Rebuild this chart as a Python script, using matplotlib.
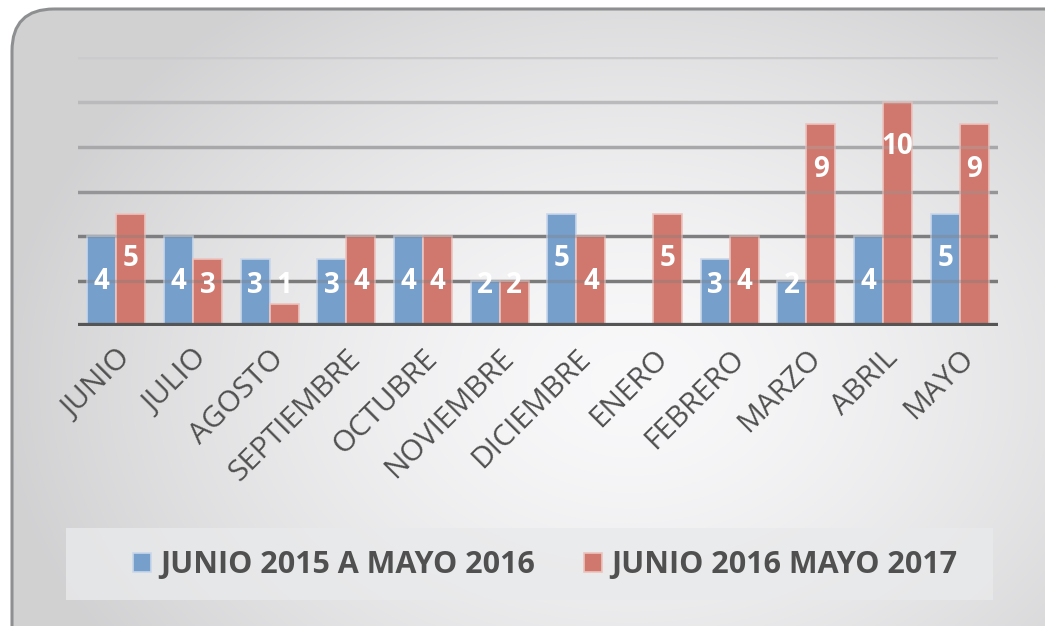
import numpy as np
import matplotlib
matplotlib.use("Agg")
import matplotlib.pyplot as plt
from matplotlib.patches import FancyBboxPatch, Rectangle

meses = ["JUNIO", "JULIO", "AGOSTO", "SEPTIEMBRE", "OCTUBRE", "NOVIEMBRE",
         "DICIEMBRE", "ENERO", "FEBRERO", "MARZO", "ABRIL", "MAYO"]
serie_2015 = [4, 4, 3, 3, 4, 2, 5, 0, 3, 2, 4, 5]
serie_2016 = [5, 3, 1, 4, 4, 2, 4, 5, 4, 9, 10, 9]
nombres = ["JUNIO 2015 A MAYO 2016", "JUNIO 2016 MAYO 2017"]

AZUL = "#779fcb"
ROJO = "#d0786e"
GRIS_TXT = "#505050"

plt.rcParams["font.family"] = ["Open Sans", "DejaVu Sans"]

W, H = 1045, 626
fig = plt.figure(figsize=(W / 100, H / 100), dpi=100)
fig.patch.set_facecolor("white")

# rounded panel with radial gradient
bg = fig.add_axes([0, 0, 1, 1])
bg.set_xlim(0, W); bg.set_ylim(H, 0); bg.axis("off")
yy, xx = np.mgrid[0:H, 0:W]
r = np.sqrt(((xx - 630) / 620.0) ** 2 + ((yy - 380) / 460.0) ** 2)
val = np.clip(0.975 - 0.15 * r ** 1.5, 0.82, 1)
img = bg.imshow(np.dstack([val, val, val + 0.006]).clip(0, 1), extent=(0, W, H, 0),
                interpolation="bilinear", zorder=0)
panel = FancyBboxPatch((12, 9), W + 40, H + 40, boxstyle="round,pad=0,rounding_size=42",
                       fc="none", ec="#8e8f91", lw=2.2, zorder=2)
bg.add_patch(panel)
img.set_clip_path(panel)
bg.add_patch(Rectangle((66, 528), 927, 72, fc="#e9eaeb", ec="none", alpha=0.8, zorder=1))

ax = fig.add_axes([78 / W, 1 - 326 / H, 920 / W, 269 / H])
ax.patch.set_alpha(0)
ax.set_xlim(-0.5, 11.5)
ax.set_ylim(0, 12)
for s in ax.spines.values():
    s.set_visible(False)

grid_cols = {2: "#7b7b7c", 4: "#7e7e80", 6: "#959597", 8: "#a8a8aa", 10: "#bababc", 12: "#cbcbcd"}
for yv, c in grid_cols.items():
    ax.axhline(yv, color=c, lw=2.4, zorder=0.5)
    ax.axhline(yv, color=c, lw=2.4, alpha=0.35, zorder=2.5)
ax.axhline(0, color="#555555", lw=4.5, zorder=3)

x = np.arange(len(meses))
w = 0.38
b1 = ax.bar(x - w / 2, serie_2015, w, color=AZUL, edgecolor="#c9d7ea", lw=1.2, zorder=2,
            label=nombres[0])
b2 = ax.bar(x + w / 2, serie_2016, w, color=ROJO, edgecolor="#ecc4bf", lw=1.2, zorder=2,
            label=nombres[1])

for xs, vals in ((x - w / 2, serie_2015), (x + w / 2, serie_2016)):
    for xi, v in zip(xs, vals):
        if v == 0:
            continue
        ax.text(xi, max(v - 2, 1.8), str(v), ha="center", va="center", color="white",
                fontsize=20, fontweight="bold", zorder=4)

ax.set_yticks([])
ax.set_xticks(x)
ax.set_xticklabels(meses, rotation=45, ha="right", va="top", rotation_mode="anchor",
                   fontsize=21.5, color=GRIS_TXT)
ax.tick_params(axis="x", length=0, pad=13)

fig.legend(handles=[b1, b2], loc="center", bbox_to_anchor=(545 / W, 1 - 565 / H), ncol=2,
           frameon=False, handlelength=0.6, handleheight=0.6, handletextpad=0.3,
           columnspacing=1.6, prop={"weight": "bold", "size": 22}, labelcolor=GRIS_TXT)

fig.savefig("out.png", dpi=100)
